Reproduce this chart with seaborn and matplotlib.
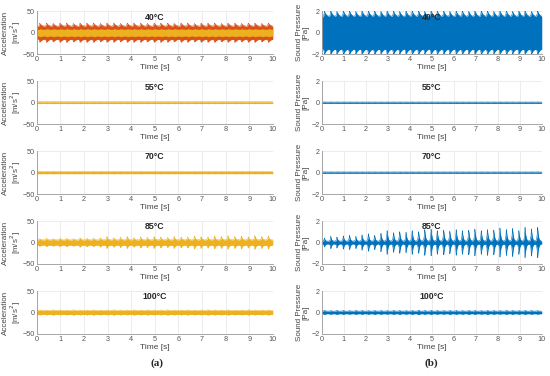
import numpy as np
import matplotlib
matplotlib.use("Agg")
from matplotlib import pyplot as plt
import seaborn as sns

# panel titles (temperatures)
temps = ['40°C', '55°C', '70°C', '85°C', '100°C']

# times of the periodic impacts seen in the signals [s]
burst_t = [0.12, 0.41, 0.69, 0.98, 1.26, 1.55, 1.83, 2.12, 2.40, 2.69, 2.97, 3.26,
           3.54, 3.83, 4.11, 4.40, 4.68, 4.97, 5.25, 5.54, 5.82, 6.11, 6.39, 6.68,
           6.96, 7.25, 7.53, 7.82, 8.10, 8.39, 8.67, 8.96, 9.24, 9.53, 9.81]

# acceleration: baseline half-width [m/s^2] and impact peak height above it
acc_base = [14.0, 2.0, 2.5, 6.0, 4.5]
acc_peaks = [
    [8, 8, 7, 8, 8, 7, 8, 8, 8, 7, 8, 8, 7, 8, 8, 8, 7, 8, 8, 8, 7, 8, 8, 7, 8, 8, 8, 7, 8, 8, 7, 8, 8, 7, 8],
    [0.5, 0.4, 0.5, 0.5, 0.4, 0.5, 0.5, 0.4, 0.5, 0.5, 0.4, 0.5, 0.5, 0.4, 0.5, 0.5, 0.4, 0.5, 0.5, 0.4, 0.5, 0.5, 0.4, 0.5, 0.5, 0.4, 0.5, 0.5, 0.4, 0.5, 0.5, 0.4, 0.5, 0.5, 0.4],
    [0.5, 0.4, 0.5, 0.5, 0.4, 0.5, 0.5, 0.4, 0.5, 0.5, 0.4, 0.5, 0.5, 0.4, 0.5, 0.5, 0.4, 0.5, 0.5, 0.4, 0.5, 0.5, 0.4, 0.5, 0.5, 0.4, 0.5, 0.5, 0.4, 0.5, 0.5, 0.4, 0.5, 0.5, 0.4],
    [3, 4, 3, 4, 4, 3, 5, 4, 4, 5, 8, 5, 6, 8, 5, 7, 6, 8, 7, 6, 8, 7, 7, 9, 8, 7, 9, 8, 10, 8, 9, 7, 10, 8, 9],
    [1.5, 1.5, 2, 1.5, 1.5, 2, 1.5, 1.5, 2, 1.5, 1.5, 2, 1.5, 1.5, 2, 1.5, 2, 1.5, 1.5, 2, 1.5, 1.5, 2, 1.5, 1.5, 2, 1.5, 1.5, 2, 1.5, 1.5, 2, 1.5, 1.5, 2],
]
# inner (yellow) channel of the 40°C acceleration record
acc40_inner_base = 7.5
acc40_inner_peaks = [2, 2, 2, 2, 2, 2, 2, 2, 2, 2, 2, 2, 2, 2, 2, 2, 2, 2, 2, 2, 2, 2, 2, 2, 2, 2, 2, 2, 2, 2, 2, 2, 2, 2, 2]

# sound pressure: baseline half-width [Pa] and impact peak height above it
snd_base = [1.45, 0.05, 0.05, 0.12, 0.12]
snd_peaks = [
    [0.55, 0.55, 0.5, 0.55, 0.55, 0.5, 0.55, 0.55, 0.55, 0.5, 0.55, 0.55, 0.5, 0.55, 0.55, 0.55, 0.5, 0.55, 0.55, 0.55, 0.5, 0.55, 0.55, 0.5, 0.55, 0.55, 0.55, 0.5, 0.55, 0.55, 0.5, 0.55, 0.55, 0.5, 0.55],
    [0.02, 0.02, 0.02, 0.02, 0.02, 0.02, 0.02, 0.02, 0.02, 0.02, 0.02, 0.02, 0.02, 0.02, 0.02, 0.02, 0.02, 0.02, 0.02, 0.02, 0.02, 0.02, 0.02, 0.02, 0.02, 0.02, 0.02, 0.02, 0.02, 0.02, 0.02, 0.02, 0.02, 0.02, 0.02],
    [0.02, 0.02, 0.02, 0.02, 0.02, 0.02, 0.02, 0.02, 0.02, 0.02, 0.02, 0.02, 0.02, 0.02, 0.02, 0.02, 0.02, 0.02, 0.02, 0.02, 0.02, 0.02, 0.02, 0.02, 0.02, 0.02, 0.02, 0.02, 0.02, 0.02, 0.02, 0.02, 0.02, 0.02, 0.02],
    [0.3, 0.45, 0.4, 0.5, 0.55, 0.45, 0.6, 0.7, 0.55, 0.75, 1.0, 0.8, 0.9, 0.85, 1.0, 0.9, 1.1, 1.15, 1.0, 1.05, 0.95, 1.1, 1.0, 1.05, 1.15, 1.0, 1.1, 1.05, 1.25, 1.1, 1.2, 1.0, 1.3, 1.15, 1.3],
    [0.08, 0.06, 0.08, 0.07, 0.06, 0.08, 0.07, 0.06, 0.08, 0.07, 0.06, 0.08, 0.07, 0.06, 0.08, 0.1, 0.07, 0.08, 0.07, 0.06, 0.08, 0.07, 0.06, 0.08, 0.07, 0.06, 0.08, 0.07, 0.06, 0.08, 0.07, 0.06, 0.08, 0.07, 0.06],
]

YELLOW = '#EDB120'
ORANGE = '#D95319'
BLUE = '#0072BD'

sns.set_style('white')
plt.rcParams['font.family'] = ['Liberation Sans', 'DejaVu Sans']

t = np.linspace(0, 10, 6000)


def envelope(base, peaks, rise=0.025, decay=0.07):
    env = np.full_like(t, base)
    for tb, a in zip(burst_t, peaks):
        dt = t - tb
        shape = np.where(dt >= 0, np.exp(-np.clip(dt, 0, None) / decay),
                         np.exp(np.clip(dt, None, 0) / rise))
        env = env + a * shape
    return env


def style_axis(ax, ylim, yticks, ylabel, title, labx):
    ax.set_xlim(0, 10)
    ax.set_ylim(*ylim)
    ax.set_xticks(range(11))
    ax.set_yticks(yticks)
    ax.grid(True, color='#e4e4e4', lw=0.5)
    ax.set_axisbelow(True)
    for s in ['top', 'right']:
        ax.spines[s].set_visible(False)
    for s in ['left', 'bottom']:
        ax.spines[s].set_color('#999999')
        ax.spines[s].set_linewidth(0.6)
    ax.tick_params(labelsize=5.2, colors='#555555', length=2, width=0.5, direction='in', pad=1.2)
    ax.set_xlabel('Time [s]', fontsize=6, color='#444444', labelpad=1)
    ax.set_ylabel(ylabel, fontsize=5.8, color='#444444', linespacing=1.0)
    ax.yaxis.set_label_coords(labx, 0.5)
    ax.text(0.5, 0.97, title, transform=ax.transAxes, ha='center', va='top',
            fontsize=6.3, fontweight='bold')


fig = plt.figure(figsize=(5.5, 3.76), dpi=100)
bottoms = [0.856, 0.670, 0.484, 0.298, 0.112]
h = 0.114

for i, temp in enumerate(temps):
    # (a) acceleration
    ax = fig.add_axes([0.067, bottoms[i], 0.429, h])
    col = ORANGE if i == 0 else YELLOW
    dec = 0.1 if i == 0 else 0.04
    env = envelope(acc_base[i], acc_peaks[i], decay=dec)
    ax.fill_between(t, -env, env, color=col, lw=0)
    sns.lineplot(x=t, y=env, ax=ax, color=col, lw=0.4)
    sns.lineplot(x=t, y=-env, ax=ax, color=col, lw=0.4)
    if i == 0:
        inner = envelope(acc40_inner_base, acc40_inner_peaks, decay=0.1)
        ax.fill_between(t, -inner, inner, color=YELLOW, lw=0)
    style_axis(ax, (-50, 50), [-50, 0, 50], 'Acceleration\n[m/s$^2$]', temp, -0.058)

    # (b) sound pressure
    ax = fig.add_axes([0.585, bottoms[i], 0.40, h])
    dec = 0.1 if i == 0 else 0.04
    env = envelope(snd_base[i], snd_peaks[i], decay=dec)
    ax.fill_between(t, -env, env, color=BLUE, lw=0)
    sns.lineplot(x=t, y=env, ax=ax, color=BLUE, lw=0.4)
    sns.lineplot(x=t, y=-env, ax=ax, color=BLUE, lw=0.4)
    style_axis(ax, (-2, 2), [-2, 0, 2], 'Sound Pressure\n[Pa]', temp, -0.055)

fig.text(0.285, 0.035, '(a)', ha='center', va='center', fontsize=8, fontweight='bold',
         family=['Liberation Serif', 'DejaVu Serif'])
fig.text(0.785, 0.035, '(b)', ha='center', va='center', fontsize=8, fontweight='bold',
         family=['Liberation Serif', 'DejaVu Serif'])

fig.savefig('out.png', dpi=100)
